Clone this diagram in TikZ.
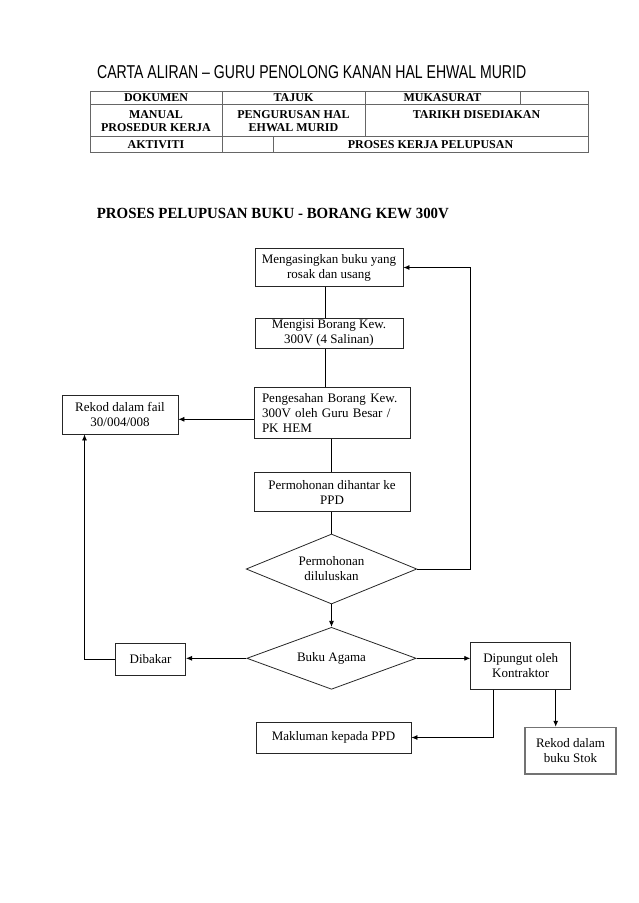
\documentclass[tikz,border=0pt]{standalone}
\usepackage{graphicx}
\usepackage{fontspec}
\setmainfont{Liberation Serif}
\newfontfamily\titlefont{Liberation Sans}
\usetikzlibrary{shapes.geometric,arrows.meta}
\begin{document}
\begin{tikzpicture}[x=1pt,y=-1pt,
  box/.style={draw=black!85, line width=0.8pt, inner sep=0pt, align=center, font=\fontsize{13}{15}\selectfont},
  dia/.style={draw=black!85, line width=0.8pt, shape=diamond, inner sep=0pt, align=center, font=\fontsize{13}{15}\selectfont},
  conn/.style={line width=0.8pt, draw=black},
  arr/.style={conn, -{Latex[length=6pt,width=5pt]}},
  tab/.style={draw=black!60, line width=0.8pt},
  th/.style={font=\fontsize{12}{13.5}\selectfont\bfseries, anchor=base, inner sep=0pt}
]
\useasboundingbox (0,0) rectangle (638,903);

% title
\node[anchor=base west, inner sep=0pt] (title) at (97,78) {\resizebox{429pt}{13pt}{\titlefont CARTA ALIRAN – GURU PENOLONG KANAN HAL EHWAL MURID}};

% table
\draw[tab] (90,91) rectangle (588,152);
\draw[tab] (90,104) -- (588,104);
\draw[tab] (90,136) -- (588,136);
\draw[tab] (222,91) -- (222,152);
\draw[tab] (365,91) -- (365,136);
\draw[tab] (520,91) -- (520,104);
\draw[tab] (273,136) -- (273,152);
\node[th] (t1) at (156,101.5) {DOKUMEN};
\node[th] (t2) at (293.5,101.5) {TAJUK};
\node[th] (t3) at (442.5,101.5) {MUKASURAT};
\node[th] (t4) at (156,118) {MANUAL};
\node[th] (t5) at (156,131.5) {PROSEDUR KERJA};
\node[th] (t6) at (293.5,118) {PENGURUSAN HAL};
\node[th] (t7) at (293.5,131.5) {EHWAL MURID};
\node[th] (t8) at (476.5,118) {TARIKH DISEDIAKAN};
\node[th] (t9) at (156,148) {AKTIVITI};
\node[th] (t10) at (430.5,148) {PROSES KERJA PELUPUSAN};

% subtitle
\node[anchor=base west, inner sep=0pt] (sub) at (96.7,218.3) {\resizebox{352pt}{10.3pt}{\bfseries PROSES PELUPUSAN BUKU - BORANG KEW 300V}};

% boxes
\node[box, minimum width=148pt, minimum height=38.4pt] (b1) at (329,267.5) {Mengasingkan buku yang\\rosak dan usang};
\node[box, minimum width=148pt, minimum height=30pt] (b2) at (329,333.3) {Mengisi Borang Kew.\\300V (4 Salinan)};
\node[box, minimum width=156pt, minimum height=51pt, text width=140pt, align=left] (b3) at (332,412.8) {Pengesahan Borang Kew.\\300V oleh Guru Besar /\\PK HEM};
\node[box, minimum width=156pt, minimum height=39pt] (b4) at (332,492.2) {Permohonan dihantar ke\\PPD};
\node[dia, aspect=2.44, minimum width=170.7pt, minimum height=70pt] (d1) at (331.5,569) {Permohonan\\diluluskan};
\node[dia, aspect=2.73, minimum width=169.3pt, minimum height=62pt] (d2) at (331.5,658.3) {Buku Agama};
\node[box, minimum width=116pt, minimum height=39pt] (rf) at (120,414.5) {Rekod dalam fail\\30/004/008};
\node[box, minimum width=70pt, minimum height=32pt] (dib) at (150.6,659) {Dibakar};
\node[box, minimum width=100pt, minimum height=46.6pt] (dip) at (520.7,666) {Dipungut oleh\\Kontraktor};
\node[box, minimum width=155pt, minimum height=31pt] (mak) at (333.5,737.5) {Makluman kepada PPD};
\node[box, minimum width=91pt, minimum height=46.7pt, draw=black!55, line width=1.2pt] (rs) at (570.5,750.7) {Rekod dalam\\buku Stok};

% connectors
\coordinate (cA) at (325,0);
\coordinate (cB) at (331.7,0);
\coordinate (rx) at (470,0);
\coordinate (ry) at (0,419.3);
\coordinate (lx) at (84.5,0);
\coordinate (px1) at (493.3,0);
\coordinate (px2) at (555.7,0);
\draw[conn] (cA |- b1.south) -- (cA |- b2.north);
\draw[conn] (cA |- b2.south) -- (cA |- b3.north);
\draw[conn] (cB |- b3.south) -- (cB |- b4.north);
\draw[conn] (b4.south -| d1.north) -- (d1.north);
\draw[arr] (d1.south) -- (d2.north);
\draw[arr] (d1.east) -| (rx |- b1.east) -- (b1.east);
\draw[arr] (ry -| b3.west) -- (ry -| rf.east);
\draw[arr] (d2.west) -- (d2.west -| dib.east);
\draw[arr] (dib.west) -| (lx |- rf.south);
\draw[arr] (d2.east) -- (d2.east -| dip.west);
\draw[arr] (px1 |- dip.south) |- (mak.east);
\draw[arr] (px2 |- dip.south) -- (px2 |- rs.north);
\end{tikzpicture}
\end{document}
